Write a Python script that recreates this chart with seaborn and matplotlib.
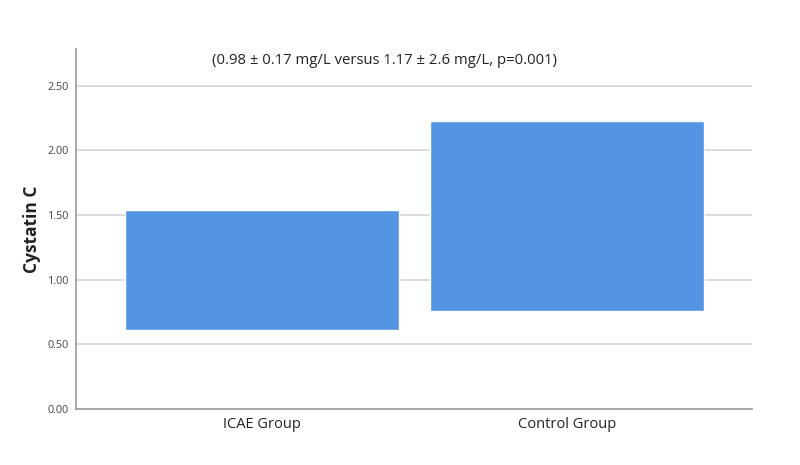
import matplotlib
matplotlib.use("Agg")
import matplotlib.pyplot as plt
import seaborn as sns
import pandas as pd
from matplotlib.ticker import FormatStrFormatter

groups = ["ICAE Group", "Control Group"]
low_vals = [0.61, 0.76]
high_vals = [1.54, 2.23]
y_ticks = [0.0, 0.5, 1.0, 1.5, 2.0, 2.5]
note = "(0.98 \u00b1 0.17 mg/L versus 1.17 \u00b1 2.6 mg/L, p=0.001)"

df = pd.DataFrame({"group": groups, "low": low_vals, "high": high_vals})
df["span"] = df["high"] - df["low"]

sns.set_style("white")
plt.rcParams["font.family"] = ["Open Sans", "DejaVu Sans"]

fig = plt.figure(figsize=(8, 4.65), dpi=100)
ax = fig.add_axes([76 / 800, 1 - 409 / 465, (752 - 76) / 800, (409 - 49) / 465])

# floating bars: height = span, starting at the low value
sns.barplot(data=df, x="group", y="span", bottom=df["low"].tolist(),
            color="#5394e3", saturation=1, width=0.9, ax=ax, zorder=3)

ax.set_xlim(-0.61, 1.607)
ax.set_ylim(0, 2.785)
ax.set_yticks(y_ticks)
ax.yaxis.set_major_formatter(FormatStrFormatter("%.2f"))
ax.grid(axis="y", color="#d6d6d6", linewidth=1.2, zorder=0)
ax.set_axisbelow(True)

for s in ["top", "right"]:
    ax.spines[s].set_visible(False)
for s in ["left", "bottom"]:
    ax.spines[s].set_color("#999999")
    ax.spines[s].set_linewidth(1.2)

ax.tick_params(axis="y", length=0, labelsize=7.8, labelcolor="#444444", pad=5)
ax.tick_params(axis="x", length=0, labelsize=10.5, labelcolor="#222222", pad=6)
ax.set_xlabel("")
ax.set_ylabel("Cystatin C", fontsize=12.5, fontweight="bold", color="#222222", labelpad=5)

fig.text(385 / 800, 1 - 60 / 465, note, ha="center", va="center",
         fontsize=10.7, color="#222222")

fig.savefig("out.png", dpi=100)
plt.close(fig)
